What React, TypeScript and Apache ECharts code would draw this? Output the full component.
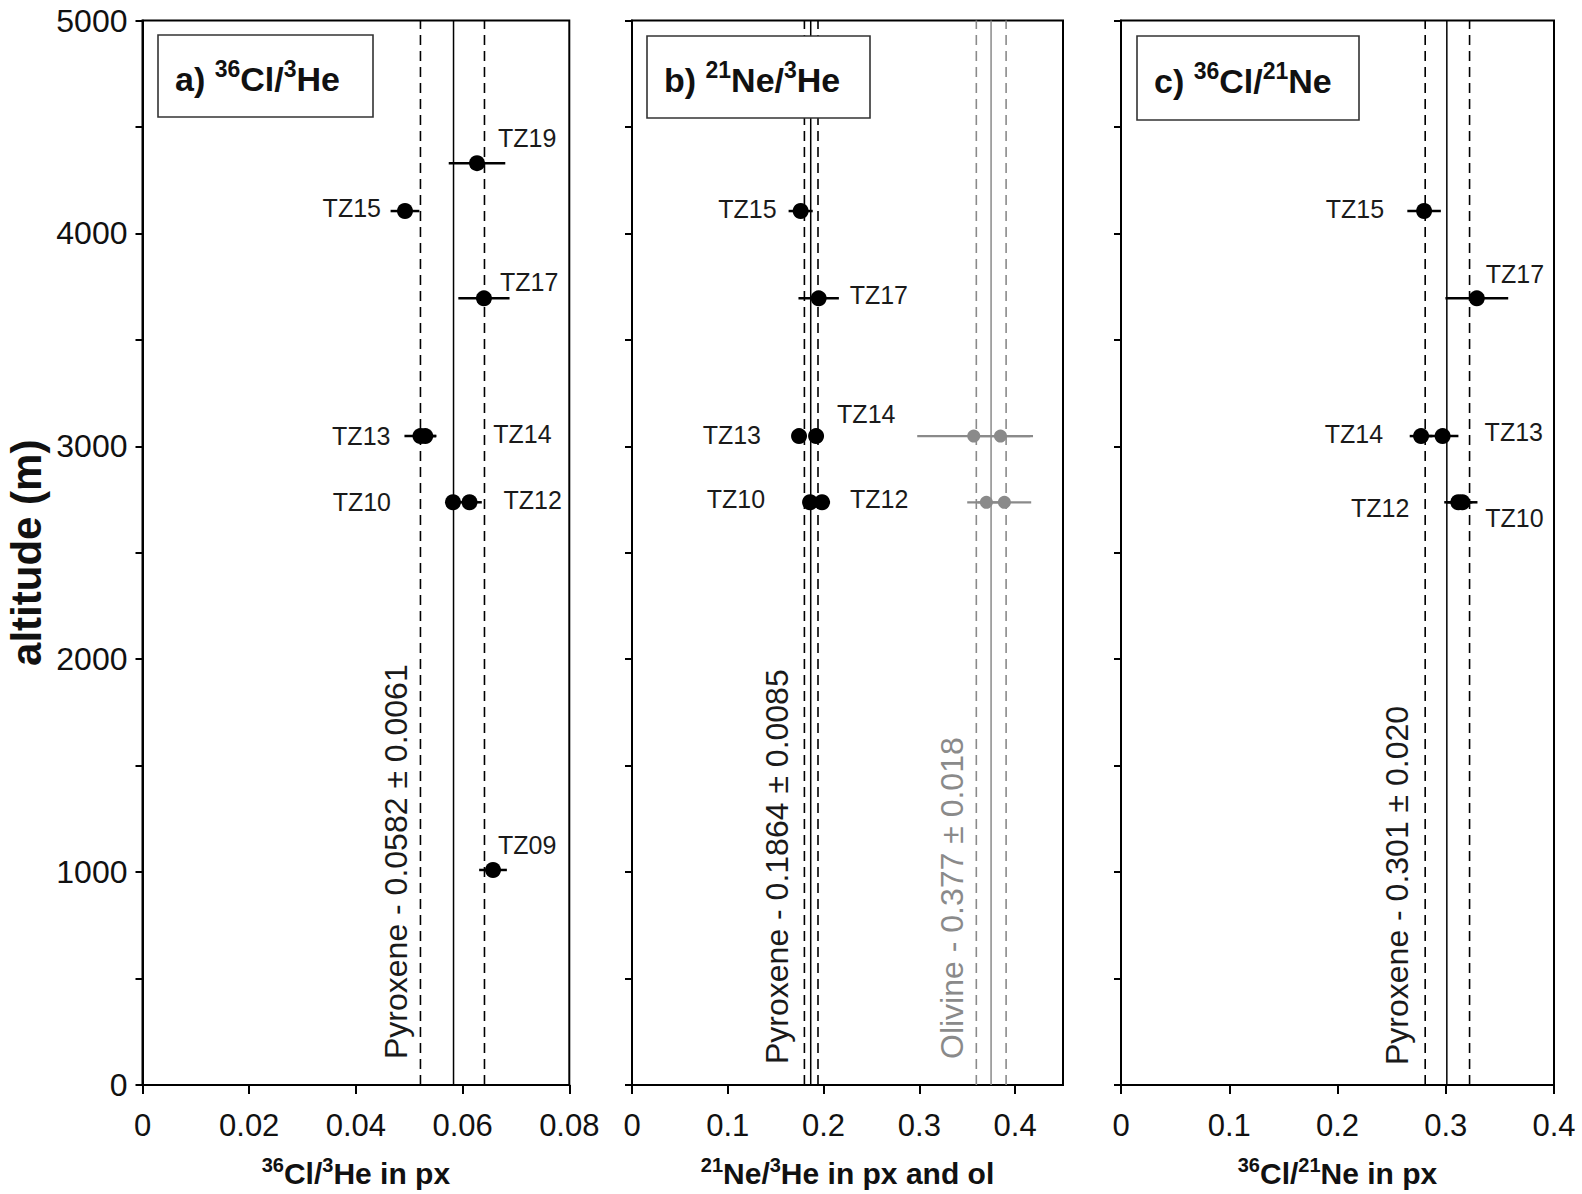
import { useEffect, useRef } from 'react';
import * as echarts from 'echarts';

// ---------- data ----------
const ALT_TICKS = [0, 500, 1000, 1500, 2000, 2500, 3000, 3500, 4000, 4500, 5000];
const ALT_LABELS = [0, 1000, 2000, 3000, 4000, 5000];
const X_TICKS_A = [0, 0.02, 0.04, 0.06, 0.08];
const X_TICKS_B = [0, 0.1, 0.2, 0.3, 0.4];
const X_TICKS_C = [0, 0.1, 0.2, 0.3, 0.4];

// panel a: 36Cl/3He in pyroxene
const SAMPLES_A = ['TZ19', 'TZ15', 'TZ17', 'TZ13', 'TZ14', 'TZ10', 'TZ12', 'TZ09'];
const ALT_A = [4330, 4105, 3695, 3048, 3048, 2737, 2737, 1010];
const RATIO_A = [0.0627, 0.0492, 0.064, 0.0521, 0.053, 0.0582, 0.0613, 0.0657];
const ERR_A = [0.0053, 0.0027, 0.0048, 0.003, 0.002, 0.001, 0.0023, 0.0026];
const MEAN_A = [0.0521, 0.0583, 0.0641]; // lower, mean, upper

// panel b: 21Ne/3He in pyroxene and olivine
const SAMPLES_B = ['TZ15', 'TZ17', 'TZ13', 'TZ14', 'TZ10', 'TZ12'];
const ALT_B = [4105, 3695, 3048, 3048, 2737, 2737];
const RATIO_B = [0.1761, 0.1949, 0.1744, 0.1922, 0.1859, 0.1984];
const ERR_B = [0.0126, 0.0211, 0.004, 0.004, 0.004, 0.0084];
const MEAN_B_PX = [0.18, 0.1866, 0.1942];
const ALT_B_OL = [3048, 3048, 2737, 2737];
const RATIO_B_OL = [0.3568, 0.3847, 0.37, 0.3888];
const ERR_B_OL = [0.059, 0.034, 0.02, 0.028];
const MEAN_B_OL = [0.3595, 0.3749, 0.3906];

// panel c: 36Cl/21Ne in pyroxene
const SAMPLES_C = ['TZ15', 'TZ17', 'TZ14', 'TZ13', 'TZ12', 'TZ10'];
const ALT_C = [4105, 3695, 3048, 3048, 2737, 2737];
const RATIO_C = [0.28, 0.3287, 0.2772, 0.2971, 0.3116, 0.3153];
const ERR_C = [0.0155, 0.029, 0.0105, 0.0146, 0.013, 0.014];
const MEAN_C = [0.281, 0.301, 0.322];

// ---------- style ----------
const FONT = "'Liberation Sans', Arial, Helvetica, sans-serif";
const INK = '#111';
const GRAY = '#8a8a8a';

const GRIDS = [
  { left: 142.5, top: 20.5, width: 426.8, height: 1064.5 },
  { left: 632, top: 20.5, width: 431, height: 1064.5 },
  { left: 1121, top: 20.5, width: 433, height: 1064.5 },
];

// label placement (position + pixel offset) for each sample label, per panel
const PLACE_A: Record<string, [string, number, number]> = {
  TZ19: ['right', 8, -25], TZ15: ['left', -11, -3], TZ17: ['right', 3, -16], TZ13: ['left', -17, 0],
  TZ14: ['right', 55, -2], TZ10: ['left', -49, 0], TZ12: ['right', 21, -2], TZ09: ['right', -8, -25],
};
const PLACE_B: Record<string, [string, number, number]> = {
  TZ15: ['left', -11, -2], TZ17: ['right', 18, -3], TZ13: ['left', -25, -1],
  TZ14: ['right', 8, -22], TZ10: ['left', -32, -3], TZ12: ['right', 15, -3],
};
const PLACE_C: Record<string, [string, number, number]> = {
  TZ15: ['left', -27, -2], TZ17: ['right', -4, -24], TZ14: ['left', -25, -2],
  TZ13: ['right', 29, -4], TZ12: ['left', -36, 6], TZ10: ['right', 10, 16],
};

const supRich = {
  b: { fontFamily: FONT, fontWeight: 'bold', fontSize: 30, color: INK, verticalAlign: 'bottom', lineHeight: 31 },
  sup: { fontFamily: FONT, fontWeight: 'bold', fontSize: 20, color: INK, verticalAlign: 'bottom', lineHeight: 20, padding: [0, 0, 13, 0] },
};

function xAxis(i: number, max: number, ticks: number[], name: string) {
  return {
    type: 'value', gridIndex: i, min: 0, max, interval: ticks[1] - ticks[0],
    axisLine: { show: true, onZero: false, lineStyle: { color: '#000', width: 2 } },
    axisTick: { show: true, length: 9, customValues: ticks, lineStyle: { color: '#000', width: 2 } },
    axisLabel: {
      show: true, customValues: ticks,
      fontFamily: FONT, fontSize: 31, color: INK, margin: 25,
      formatter: (v: number) => String(v),
    },
    splitLine: { show: false },
    name, nameLocation: 'middle', nameGap: 72,
    nameTextStyle: { fontFamily: FONT, fontWeight: 'bold', fontSize: 30, color: INK, rich: supRich },
  };
}

function yAxis(i: number) {
  return {
    type: 'value', gridIndex: i, min: 0, max: 5000, interval: 500,
    axisLine: { show: true, onZero: false, lineStyle: { color: '#000', width: 2 } },
    axisTick: { show: true, length: 7, customValues: ALT_TICKS, lineStyle: { color: '#000', width: 2 } },
    axisLabel: {
      show: i === 0, customValues: ALT_LABELS, fontFamily: FONT, fontSize: 32, color: INK, margin: 15,
      formatter: (v: number) => String(v),
    },
    splitLine: { show: false },
    name: i === 0 ? 'altitude (m)' : '',
    nameLocation: 'middle', nameGap: 95, nameRotate: 90,
    nameTextStyle: { fontFamily: FONT, fontWeight: 'bold', fontSize: 42, color: INK },
  };
}

function refLines(i: number, vals: number[], color: string) {
  return vals.map((v, k) => ({
    type: 'line', xAxisIndex: i, yAxisIndex: i, silent: true, symbol: 'none', z: 1,
    data: [[v, ALT_TICKS[0]], [v, ALT_TICKS[ALT_TICKS.length - 1]]],
    lineStyle: k === 1 ? { color, width: 1.5, type: 'solid' } : { color, width: 1.6, type: [10, 6] },
  }));
}

function errorBars(i: number, ratios: number[], alts: number[], errs: number[], color: string, width: number) {
  return {
    type: 'custom', xAxisIndex: i, yAxisIndex: i, silent: true, z: 3,
    data: ratios.map((r, k) => [r, alts[k], errs[k]]),
    encode: { x: 0, y: 1 },
    renderItem: (_p: any, api: any) => {
      const x = api.value(0), y = api.value(1), e = api.value(2);
      const a = api.coord([x - e, y]);
      const b = api.coord([x + e, y]);
      return { type: 'line', shape: { x1: a[0], y1: a[1], x2: b[0], y2: b[1] }, style: { stroke: color, lineWidth: width } };
    },
  };
}

function points(i: number, names: string[] | null, ratios: number[], alts: number[], color: string, size: number,
  place: Record<string, [string, number, number]> | null) {
  return {
    type: 'scatter', xAxisIndex: i, yAxisIndex: i, z: 4, symbol: 'circle', symbolSize: size,
    itemStyle: { color, opacity: 1 },
    data: ratios.map((r, k) => {
      const nm = names ? names[k] : '';
      const p = place && nm ? place[nm] : null;
      return {
        value: [r, alts[k]], name: nm,
        label: p ? {
          show: true, formatter: '{b}', position: p[0], offset: [p[1], p[2]],
          fontFamily: FONT, fontSize: 25, color: '#1a1a1a', distance: 5,
        } : { show: false },
      };
    }),
  };
}

function legendBox(x: number, y: number, w: number, h: number, text: string) {
  return [
    { type: 'rect', z: 20, shape: { x, y, width: w, height: h }, style: { fill: '#fff', stroke: '#333', lineWidth: 1.6 } },
    {
      type: 'text', z: 21, x: x + 17, y: y + h / 2 + 2,
      style: {
        text, align: 'left', verticalAlign: 'middle',
        rich: {
          b: { fontFamily: FONT, fontWeight: 'bold', fontSize: 34, fill: INK, verticalAlign: 'bottom', lineHeight: 35 },
          sup: { fontFamily: FONT, fontWeight: 'bold', fontSize: 23, fill: INK, verticalAlign: 'bottom', lineHeight: 23, padding: [0, 0, 15, 0] },
        },
      },
    },
  ];
}

function vText(x: number, y: number, text: string, color: string) {
  return {
    type: 'text', z: 15, x, y, rotation: Math.PI / 2,
    style: { text, fontFamily: FONT, fontSize: 32, fill: color, align: 'left', verticalAlign: 'middle' },
  };
}

export default function App() {
  const ref = useRef<HTMLDivElement>(null);
  useEffect(() => {
    if (!ref.current) return;
    const chart = echarts.init(ref.current, null, { renderer: 'svg' });
    const option: any = {
      animation: false,
      backgroundColor: '#fff',
      grid: GRIDS.map((g) => ({ ...g, show: true, borderColor: '#000', borderWidth: 2, backgroundColor: 'transparent', containLabel: false })),
      xAxis: [
        xAxis(0, 0.08, X_TICKS_A, '{sup|36}{b|Cl/}{sup|3}{b|He in px}'),
        xAxis(1, 0.45, X_TICKS_B, '{sup|21}{b|Ne/}{sup|3}{b|He in px and ol}'),
        xAxis(2, 0.4, X_TICKS_C, '{sup|36}{b|Cl/}{sup|21}{b|Ne in px}'),
      ],
      yAxis: [yAxis(0), yAxis(1), yAxis(2)],
      series: [
        ...refLines(0, MEAN_A, '#000'),
        ...refLines(1, MEAN_B_PX, '#000'),
        ...refLines(1, MEAN_B_OL, GRAY),
        ...refLines(2, MEAN_C, '#000'),
        errorBars(0, RATIO_A, ALT_A, ERR_A, '#000', 2.5),
        errorBars(1, RATIO_B, ALT_B, ERR_B, '#000', 2.5),
        errorBars(1, RATIO_B_OL, ALT_B_OL, ERR_B_OL, GRAY, 2.2),
        errorBars(2, RATIO_C, ALT_C, ERR_C, '#000', 2.5),
        points(0, SAMPLES_A, RATIO_A, ALT_A, '#000', 16, PLACE_A),
        points(1, SAMPLES_B, RATIO_B, ALT_B, '#000', 16, PLACE_B),
        points(1, null, RATIO_B_OL, ALT_B_OL, GRAY, 13, null),
        points(2, SAMPLES_C, RATIO_C, ALT_C, '#000', 16, PLACE_C),
      ],
      graphic: [
        ...legendBox(158, 35, 215, 82, '{b|a) }{sup|36}{b|Cl/}{sup|3}{b|He}'),
        ...legendBox(647, 36, 223, 82, '{b|b) }{sup|21}{b|Ne/}{sup|3}{b|He}'),
        ...legendBox(1137, 36, 222, 84, '{b|c) }{sup|36}{b|Cl/}{sup|21}{b|Ne}'),
        vText(396, 1059, 'Pyroxene - 0.0582 ± 0.0061', '#1a1a1a'),
        vText(777, 1064, 'Pyroxene - 0.1864 ± 0.0085', '#1a1a1a'),
        vText(952, 1059, 'Olivine - 0.377 ± 0.018', GRAY),
        vText(1397, 1065, 'Pyroxene - 0.301 ± 0.020', '#1a1a1a'),
      ],
    };
    chart.setOption(option);
    return () => chart.dispose();
  }, []);
  return (
    <div
      ref={ref}
      style={{ position: 'absolute', left: 0, top: 0, width: 1582, height: 1194, background: '#fff' }}
    />
  );
}
